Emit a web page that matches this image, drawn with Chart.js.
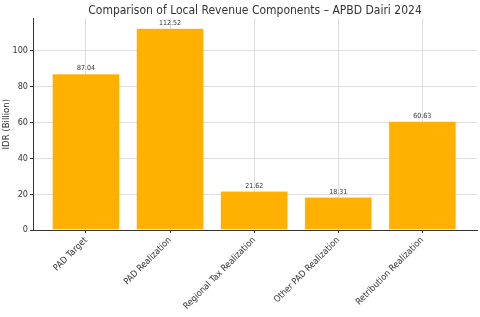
<!DOCTYPE html>
<html>
<head>
<meta charset="utf-8">
<script src="https://cdn.jsdelivr.net/npm/chart.js@4/dist/chart.umd.min.js"></script>
<style>
html,body{margin:0;padding:0;background:#fff;}
#wrap{width:480px;height:317px;position:relative;}
</style>
</head>
<body>
<div id="wrap"><canvas id="c" width="480" height="317"></canvas></div>
<script>
const categories = ["PAD Target", "PAD Realization", "Regional Tax Realization", "Other PAD Realization", "Retribution Realization"];
const values = [87.04, 112.52, 21.62, 18.31, 60.63];
const yTicks = [0, 20, 40, 60, 80, 100];
const titleText = "Comparison of Local Revenue Components – APBD Dairi 2024";
const yTitle = "IDR (Billion)";

const FONT = "'DejaVu Sans Condensed', 'DejaVu Sans', sans-serif";

const valueLabels = {
  id: 'valueLabels',
  afterDatasetsDraw(chart) {
    const ctx = chart.ctx;
    const meta = chart.getDatasetMeta(0);
    ctx.save();
    ctx.font = "7px " + FONT;
    ctx.fillStyle = "#333";
    ctx.textAlign = "center";
    ctx.textBaseline = "bottom";
    meta.data.forEach((bar, i) => {
      ctx.fillText(values[i].toFixed(2), bar.x, bar.y - 2);
    });
    ctx.restore();
  }
};

new Chart(document.getElementById('c'), {
  type: 'bar',
  data: {
    datasets: [{
      data: values.map((v, i) => ({x: i, y: v})),
      backgroundColor: '#FFB000',
      borderColor: '#FFC440',
      borderWidth: 0.5,
      barPercentage: 0.8,
      categoryPercentage: 1.0
    }]
  },
  options: {
    responsive: false,
    animation: false,
    devicePixelRatio: 1,
    layout: {padding: {left: 0, right: 3, top: 0, bottom: 0}},
    plugins: {
      legend: {display: false},
      tooltip: {enabled: false},
      title: {
        display: true,
        fullSize: false,
        text: titleText,
        color: '#333',
        font: {family: FONT, size: 12, weight: 'normal'},
        padding: {top: 4, bottom: 0}
      }
    },
    scales: {
      x: {
        type: 'linear',
        min: -0.63,
        max: 4.65,
        offset: false,
        z: 1,
        afterBuildTicks(scale) { scale.ticks = categories.map((_, i) => ({value: i})); },
        afterFit(scale) { scale.height = 87; },
        ticks: {
          autoSkip: false,
          maxRotation: 45,
          minRotation: 45,
          padding: 2,
          color: '#333',
          font: {family: FONT, size: 9},
          callback: (v) => categories[v]
        },
        grid: {
          offset: false,
          color: '#dddddd',
          borderDash: [2, 2],
          tickColor: '#333',
          tickLength: 3,
          tickBorderDash: []
        },
        border: {display: true, color: '#333', width: 1}
      },
      y: {
        min: 0,
        max: 118.15,
        z: 1,
        afterBuildTicks(scale) { scale.ticks = yTicks.map(v => ({value: v})); },
        afterFit(scale) { scale.width = 33; },
        ticks: {
          color: '#333',
          padding: 2,
          font: {family: FONT, size: 9}
        },
        title: {
          display: true,
          text: yTitle,
          color: '#333',
          font: {family: FONT, size: 9.5},
          padding: {top: 1, bottom: 1}
        },
        grid: {
          color: '#dddddd',
          borderDash: [2, 2],
          tickColor: '#333',
          tickLength: 3,
          tickBorderDash: []
        },
        border: {display: true, color: '#333', width: 1}
      }
    }
  },
  plugins: [valueLabels]
});
</script>
</body>
</html>
